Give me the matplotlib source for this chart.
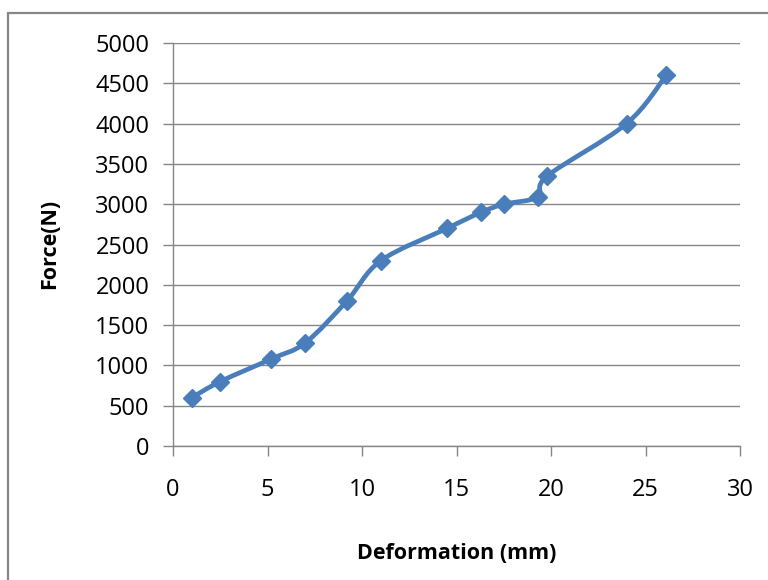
import matplotlib
matplotlib.use("Agg")
import matplotlib.pyplot as plt
from matplotlib.path import Path
from matplotlib.patches import PathPatch, Rectangle

deformation = [1.0, 2.5, 5.2, 7.0, 9.2, 11.0, 14.5, 16.3, 17.5, 19.3, 19.8, 24.0, 26.1]
force = [600, 800, 1080, 1280, 1800, 2300, 2700, 2900, 3000, 3090, 3350, 4000, 4600]
xticks = [0, 5, 10, 15, 20, 25, 30]
yticks = [0, 500, 1000, 1500, 2000, 2500, 3000, 3500, 4000, 4500, 5000]

LINE = "#4a7ebb"
GRID = "#868686"

fig = plt.figure(figsize=(7.68, 5.80), dpi=100)
fig.patches.append(Rectangle((7.5 / 768, -0.1), 1.2, 1 - 12.5 / 580 + 0.1,
                             transform=fig.transFigure, fill=False,
                             edgecolor="#878787", linewidth=1.6))
ax = fig.add_axes([173 / 768, 1 - 446 / 580, (740 - 173) / 768, (446 - 43) / 580])

# smoothed line (Catmull-Rom as Bezier curves, like Excel smoothing)
pts = list(zip(deformation, force))
verts = [pts[0]]
codes = [Path.MOVETO]
n = len(pts)
for i in range(n - 1):
    p0 = pts[i - 1] if i > 0 else pts[i]
    p1 = pts[i]
    p2 = pts[i + 1]
    p3 = pts[i + 2] if i + 2 < n else pts[i + 1]
    c1 = (p1[0] + (p2[0] - p0[0]) / 6, p1[1] + (p2[1] - p0[1]) / 6)
    c2 = (p2[0] - (p3[0] - p1[0]) / 6, p2[1] - (p3[1] - p1[1]) / 6)
    verts += [c1, c2, p2]
    codes += [Path.CURVE4] * 3
ax.add_patch(PathPatch(Path(verts, codes), facecolor="none", edgecolor=LINE,
                       linewidth=3.4, capstyle="round", joinstyle="round", zorder=3))
ax.plot(deformation, force, linestyle="none", marker="D", markersize=9.5,
        color=LINE, zorder=4)

ax.set_xlim(0, 30)
ax.set_ylim(0, 5000)
ax.set_xticks(xticks)
ax.set_yticks(yticks)
ax.yaxis.grid(True, color=GRID, linewidth=1.0)
ax.set_axisbelow(True)
for s in ["top", "right"]:
    ax.spines[s].set_visible(False)
for s in ["left", "bottom"]:
    ax.spines[s].set_color(GRID)
    ax.spines[s].set_linewidth(1.0)
ax.tick_params(axis="both", colors=GRID, length=7, width=1.0, labelcolor="black",
               labelsize=17)
ax.tick_params(axis="x", pad=16)
ax.tick_params(axis="y", pad=10)
for lab in ax.get_xticklabels() + ax.get_yticklabels():
    lab.set_fontfamily("Open Sans")

ax.set_xlabel("Deformation (mm)", fontsize=15.5, fontweight="bold",
              fontfamily="Open Sans")
ax.set_ylabel("Force(N)", fontsize=15.5, fontweight="bold",
              fontfamily="Open Sans")
ax.xaxis.set_label_coords((457 - 173) / 567, -(543 - 446) / 403)
ax.yaxis.set_label_coords((60 - 173) / 567, (446 - 244) / 403)

fig.savefig("out.png", dpi=100)
